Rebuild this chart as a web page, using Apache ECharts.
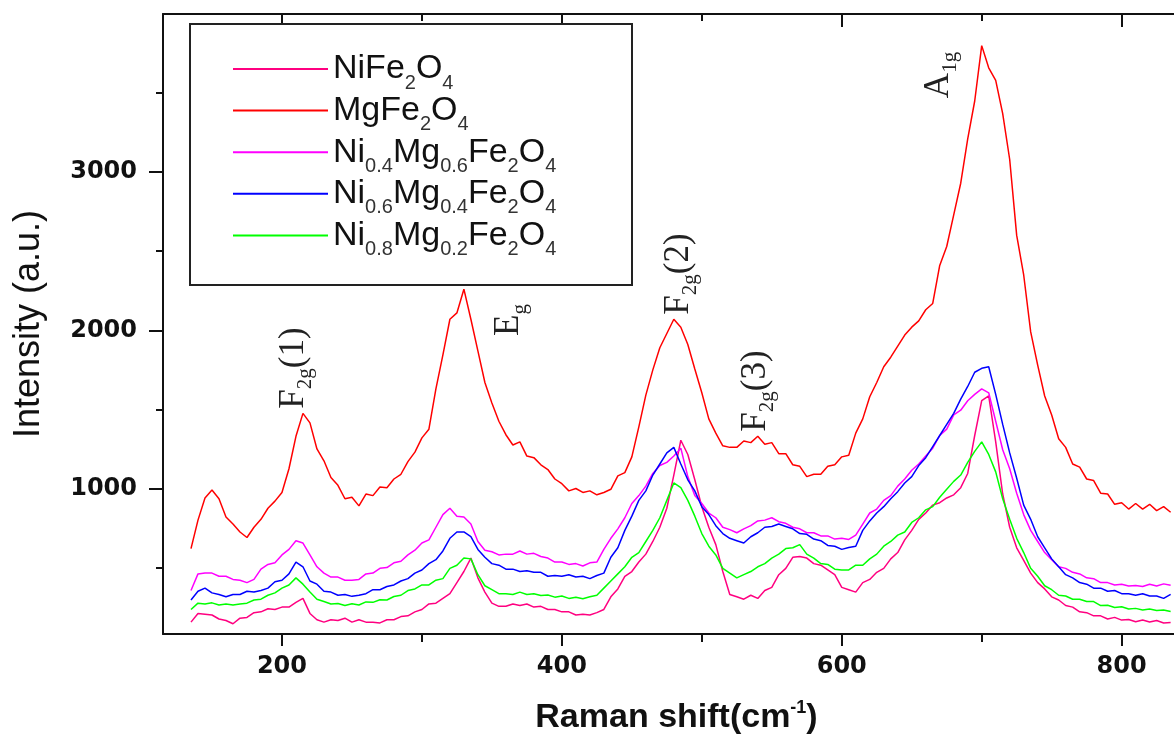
<!DOCTYPE html>
<html>
<head>
<meta charset="utf-8">
<script src="https://cdn.jsdelivr.net/npm/echarts@6.0.0/dist/echarts.min.js"></script>
<style>
  html, body { margin: 0; padding: 0; background: #fff; }
  #chart { width: 1174px; height: 740px; }
</style>
</head>
<body>
<div id="chart"></div>
<script>
// ---- Data (Raman shift in cm^-1, intensity in a.u.) ----
const ramanShift = [
  135,140,145,150,155,160,165,170,175,180,
  185,190,195,200,205,210,215,220,225,230,
  235,240,245,250,255,260,265,270,275,280,
  285,290,295,300,305,310,315,320,325,330,
  335,340,345,350,355,360,365,370,375,380,
  385,390,395,400,405,410,415,420,425,430,
  435,440,445,450,455,460,465,470,475,480,
  485,490,495,500,505,510,515,520,525,530,
  535,540,545,550,555,560,565,570,575,580,
  585,590,595,600,605,610,615,620,625,630,
  635,640,645,650,655,660,665,670,675,680,
  685,690,695,700,705,710,715,720,725,730,
  735,740,745,750,755,760,765,770,775,780,
  785,790,795,800,805,810,815,820,825,830,
  835
];
const niFe2O4 = [
  155,210,205,200,175,165,145,180,185,215,
  220,240,235,250,250,280,305,210,170,155,
  170,165,180,155,170,155,155,150,170,170,
  190,195,220,235,270,275,305,335,405,475,
  560,435,345,275,255,255,270,260,270,250,
  255,235,235,220,220,200,205,200,215,235,
  315,365,445,475,535,585,665,755,875,1085,
  1305,1215,1055,885,755,645,475,330,315,300,
  325,305,355,375,455,495,565,570,560,525,
  515,485,455,375,360,345,405,425,470,495,
  555,595,675,735,805,845,895,910,940,960,
  1005,1095,1335,1555,1585,1295,965,755,625,545,
  465,405,365,315,295,260,250,220,215,195,
  195,175,185,168,172,158,168,156,165,150,
  152
];
const mgFe2O4 = [
  620,800,940,990,935,820,775,725,690,755,
  805,875,920,975,1125,1330,1475,1415,1250,1175,
  1070,1020,935,945,890,965,955,1010,1005,1060,
  1090,1170,1230,1320,1375,1630,1845,2070,2110,2260,
  2070,1870,1670,1540,1425,1340,1275,1295,1205,1195,
  1150,1120,1060,1030,985,1000,975,985,960,975,
  995,1080,1100,1200,1390,1590,1750,1890,1980,2070,
  2020,1910,1755,1605,1440,1350,1270,1260,1260,1300,
  1290,1330,1280,1290,1220,1220,1150,1140,1075,1090,
  1090,1140,1150,1200,1210,1350,1440,1580,1670,1770,
  1830,1900,1970,2020,2060,2130,2170,2410,2530,2730,
  2930,3210,3450,3800,3660,3580,3370,3080,2600,2350,
  1990,1780,1585,1465,1315,1260,1155,1135,1060,1050,
  970,965,900,910,870,905,870,900,860,885,
  850
];
const ni04Mg06 = [
  355,460,465,465,445,445,425,420,405,425,
  490,520,530,580,615,670,655,580,505,465,
  440,440,420,420,425,460,465,495,500,530,
  540,580,610,655,675,755,835,875,825,820,
  775,665,610,600,580,585,585,605,585,590,
  570,560,535,535,520,525,510,530,535,615,
  685,745,815,905,955,1015,1095,1145,1165,1205,
  1255,1075,955,905,845,815,755,740,720,745,
  765,795,800,815,790,780,755,745,720,720,
  700,700,680,685,678,705,775,845,870,925,
  955,1015,1060,1115,1155,1205,1255,1335,1375,1465,
  1495,1555,1595,1630,1605,1425,1245,1125,970,835,
  735,665,595,550,505,495,470,460,435,430,
  405,405,390,395,383,387,380,395,383,397,
  388
];
const ni06Mg04 = [
  295,350,370,340,330,315,330,330,350,345,
  355,370,410,420,460,535,505,415,395,350,
  345,325,330,318,325,335,360,360,380,390,
  415,430,465,485,525,550,605,685,725,725,
  695,615,565,525,515,490,490,475,480,470,
  470,445,450,445,455,440,445,430,450,465,
  565,625,735,825,925,985,1085,1155,1225,1260,
  1155,1055,985,885,835,765,715,685,670,655,
  695,720,755,760,775,760,745,715,710,680,
  670,640,635,615,627,635,735,795,845,885,
  935,980,1035,1075,1145,1195,1265,1335,1405,1475,
  1565,1645,1735,1760,1770,1595,1405,1225,1065,895,
  805,695,625,555,505,455,435,405,395,370,
  370,350,355,335,335,325,335,320,320,305,
  330
];
const ni08Mg02 = [
  235,275,270,277,263,270,263,270,275,295,
  300,325,340,370,390,435,395,345,300,285,
  270,273,260,271,263,283,280,297,295,317,
  325,355,365,390,390,420,430,495,515,560,
  555,455,385,360,335,335,330,345,330,335,
  323,327,313,320,305,313,303,315,325,370,
  415,460,505,565,595,665,735,815,925,1035,
  1005,925,825,715,635,580,495,465,435,455,
  475,505,525,560,585,620,625,645,585,560,
  525,520,490,485,485,515,515,555,585,635,
  665,705,725,785,815,865,885,945,995,1045,
  1085,1165,1235,1295,1215,1105,935,805,685,595,
  495,445,385,360,325,320,300,300,285,285,
  260,262,248,252,238,242,232,238,228,232,
  222
];

const seriesNames = ['NiFe2O4', 'MgFe2O4', 'Ni0.4Mg0.6Fe2O4', 'Ni0.6Mg0.4Fe2O4', 'Ni0.8Mg0.2Fe2O4'];
const seriesValues = [niFe2O4, mgFe2O4, ni04Mg06, ni06Mg04, ni08Mg02];
const seriesColors = ['#ff0080', '#ff0000', '#ff00ff', '#0000ff', '#00ff00'];
const legendRich = {
  'NiFe2O4': '{n|NiFe}{s|2}{n|O}{s|4}',
  'MgFe2O4': '{n|MgFe}{s|2}{n|O}{s|4}',
  'Ni0.4Mg0.6Fe2O4': '{n|Ni}{s|0.4}{n|Mg}{s|0.6}{n|Fe}{s|2}{n|O}{s|4}',
  'Ni0.6Mg0.4Fe2O4': '{n|Ni}{s|0.6}{n|Mg}{s|0.4}{n|Fe}{s|2}{n|O}{s|4}',
  'Ni0.8Mg0.2Fe2O4': '{n|Ni}{s|0.8}{n|Mg}{s|0.2}{n|Fe}{s|2}{n|O}{s|4}'
};

const xMajor = [200, 400, 600, 800];
const xMinor = [300, 500, 700];
const yMajor = [1000, 2000, 3000];
const yMinor = [500, 1500, 2500, 3500];
const xMin = 115, xMax = 837.4, yMin = 80, yMax = 4000;

// ---- Chart ----
const chart = echarts.init(document.getElementById('chart'), null, { renderer: 'canvas' });
const axisColor = '#111';
const tickFont = { fontFamily: 'DejaVu Sans', fontWeight: 'bold', fontSize: 24, color: '#111', formatter: v => String(v) };

const series = seriesNames.map((name, k) => ({
  name: name,
  type: 'line',
  xAxisIndex: 0,
  yAxisIndex: 0,
  showSymbol: false,
  symbol: 'none',
  smooth: false,
  color: seriesColors[k],
  lineStyle: { width: 1.5, color: seriesColors[k] },
  data: ramanShift.map((x, i) => [x, seriesValues[k][i]]),
  z: 2
}));

const serifMain = { fontFamily: 'Liberation Serif', fontSize: 35, lineHeight: 44, fill: '#222' };
const serifSub = { fontFamily: 'Liberation Serif', fontSize: 21, lineHeight: 21, verticalAlign: 'bottom', fill: '#222' };
function annot(x, y, text) {
  return {
    type: 'text', x: x, y: y, rotation: Math.PI / 2, z: 6,
    style: {
      text: text, align: 'center', verticalAlign: 'middle',
      fontFamily: 'Liberation Serif', fontSize: 35, fill: '#222',
      rich: { m: serifMain, s: serifSub }
    }
  };
}

const option = {
  animation: false,
  backgroundColor: '#fff',
  grid: { left: 163, right: 0, top: 14, bottom: 100, containLabel: false },
  legend: {
    data: seriesNames,
    orient: 'vertical',
    left: 233, top: 52,
    padding: 0,
    itemWidth: 95, itemHeight: 2, itemGap: 0.6,
    icon: 'rect',
    selectedMode: false,
    z: 7,
    formatter: name => legendRich[name],
    textStyle: {
      color: '#111', fontFamily: 'Liberation Sans', fontSize: 34,
      rich: {
        n: { fontFamily: 'Liberation Sans', fontSize: 34, lineHeight: 48, color: '#111' },
        s: { fontFamily: 'Liberation Sans', fontSize: 20, lineHeight: 20, verticalAlign: 'bottom', color: '#333' }
      }
    }
  },
  xAxis: [
    {
      type: 'value', min: xMin, max: xMax, position: 'bottom',
      axisLine: { show: true, lineStyle: { color: axisColor, width: 2 } },
      axisTick: { show: true, customValues: xMajor, length: 12, lineStyle: { color: axisColor, width: 2 } },
      axisLabel: Object.assign({ customValues: xMajor, margin: 21 }, tickFont),
      splitLine: { show: false },
      name: '{a|Raman shift(cm}{b|-1}{a|)}',
      nameLocation: 'middle', nameGap: 65,
      nameTextStyle: {
        padding: [0, 0, 0, 16],
        rich: {
          a: { fontFamily: 'Liberation Sans', fontWeight: 'bold', fontSize: 34, lineHeight: 38, color: '#111' },
          b: { fontFamily: 'Liberation Sans', fontWeight: 'bold', fontSize: 18, lineHeight: 18, verticalAlign: 'top', color: '#111' }
        }
      }
    },
    {
      type: 'value', min: xMin, max: xMax, position: 'bottom',
      axisLine: { show: false },
      axisTick: { show: true, customValues: xMinor, length: 8, lineStyle: { color: axisColor, width: 2 } },
      axisLabel: { show: false },
      splitLine: { show: false }
    },
    {
      type: 'value', min: xMin, max: xMax, position: 'top',
      axisLine: { show: true, lineStyle: { color: axisColor, width: 2 } },
      axisTick: { show: true, inside: true, customValues: xMajor, length: 13, lineStyle: { color: axisColor, width: 2 } },
      axisLabel: { show: false },
      splitLine: { show: false }
    },
    {
      type: 'value', min: xMin, max: xMax, position: 'top',
      axisLine: { show: false },
      axisTick: { show: true, inside: true, customValues: xMinor, length: 7, lineStyle: { color: axisColor, width: 2 } },
      axisLabel: { show: false },
      splitLine: { show: false }
    }
  ],
  yAxis: [
    {
      type: 'value', min: yMin, max: yMax, position: 'left',
      axisLine: { show: true, lineStyle: { color: axisColor, width: 2 } },
      axisTick: { show: true, customValues: yMajor, length: 14, lineStyle: { color: axisColor, width: 2 } },
      axisLabel: Object.assign({ customValues: yMajor, margin: 26 }, tickFont),
      splitLine: { show: false },
      name: 'Intensity (a.u.)',
      nameLocation: 'middle', nameGap: 116, nameRotate: 90,
      nameTextStyle: { fontFamily: 'Liberation Sans', fontSize: 36, color: '#111' }
    },
    {
      type: 'value', min: yMin, max: yMax, position: 'left',
      axisLine: { show: false },
      axisTick: { show: true, customValues: yMinor, length: 7, lineStyle: { color: axisColor, width: 2 } },
      axisLabel: { show: false },
      splitLine: { show: false }
    }
  ],
  graphic: [
    {
      type: 'rect', z: 5,
      shape: { x: 190, y: 24, width: 442, height: 261 },
      style: { fill: '#fff', stroke: '#222', lineWidth: 2 }
    },
    annot(294, 368, '{m|F}{s|2g}{m|(1)}'),
    annot(509, 320, '{m|E}{s|g}'),
    annot(679, 274, '{m|F}{s|2g}{m|(2)}'),
    annot(756, 391, '{m|F}{s|2g}{m|(3)}'),
    annot(939, 75, '{m|A}{s|1g}')
  ],
  series: series
};
chart.setOption(option);
</script>
</body>
</html>
